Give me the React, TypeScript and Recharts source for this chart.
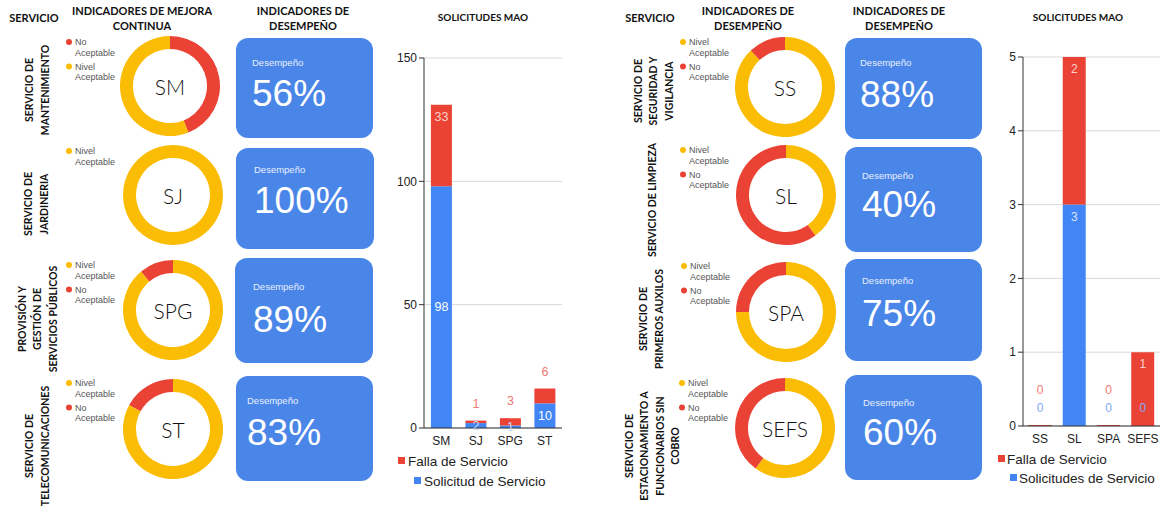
import React from 'react';
import { PieChart, Pie, Cell, BarChart, Bar, XAxis, YAxis, CartesianGrid, LabelList } from 'recharts';

// ---------- DATA ----------
const leftServices = ['SM', 'SJ', 'SPG', 'ST'];
const leftServiceNames = [
  ['SERVICIO DE', 'MANTENIMIENTO'],
  ['SERVICIO DE', 'JARDINERIA'],
  ['PROVISIÓN Y', 'GESTIÓN DE', 'SERVICIOS PÚBLICOS'],
  ['SERVICIO DE', 'TELECOMUNICACIONES'],
];
const leftPerformance = [56, 100, 89, 83];
const leftNoAceptable = [44, 0, 11, 17];
const leftLegendOrder = [['No', 'Nivel'], ['Nivel'], ['Nivel', 'No'], ['Nivel', 'No']];
const leftSolicitud = [98, 2, 1, 10];
const leftFalla = [33, 1, 3, 6];
const leftTicks = [0, 50, 100, 150];

const rightServices = ['SS', 'SL', 'SPA', 'SEFS'];
const rightServiceNames = [
  ['SERVICIO DE', 'SEGURIDAD Y', 'VIGILANCIA'],
  ['SERVICIO DE LIMPIEZA'],
  ['SERVICIO DE', 'PRIMEROS AUXILOS'],
  ['SERVICIO DE', 'ESTACIONAMIENTO A', 'FUNCIONARIOS SIN', 'COBRO'],
];
const rightPerformance = [88, 40, 75, 60];
const rightNoAceptable = [12, 60, 25, 40];
const rightLegendOrder = [['Nivel', 'No'], ['Nivel', 'No'], ['Nivel', 'No'], ['Nivel', 'No']];
const rightSolicitudes = [0, 3, 0, 0];
const rightFalla = [0, 2, 0, 1];
const rightTicks = [0, 1, 2, 3, 4, 5];

const legendText = { Nivel: ['Nivel', 'Aceptable'], No: ['No', 'Aceptable'] };

// ---------- STYLE ----------
const YELLOW = '#FBBC04';
const RED = '#EA4335';
const BOX = '#4A86E8';
const BAR_BLUE = '#4285F4';
const HEAD_FONT = 'Lato, "Open Sans", sans-serif';
const SANS = '"Liberation Sans", Arial, sans-serif';

// ---------- LAYOUT ----------
const leftDonutPos = [[170, 86], [173, 195], [173, 310], [173, 429]];
const rightDonutPos = [[785, 87], [786, 195], [786, 312], [785, 428]];
const leftLabelPos = [[37, 90], [36, 204], [37, 319], [37, 446]];
const rightLabelPos = [[653, 91], [652, 200], [651, 319], [652, 446]];
const leftLegendPos = [[69, 42], [69, 151], [69, 265], [69, 383]];
const rightLegendPos = [[683, 42], [683, 150], [684, 266], [682, 383]];
const leftBoxes = [
  { x: 236, y: 38, w: 137, h: 100, tx: 252, ty: 62, pb: 106 },
  { x: 236, y: 148, w: 138, h: 101, tx: 254, ty: 169, pb: 213 },
  { x: 235, y: 258, w: 138, h: 105, tx: 253, ty: 286, pb: 332 },
  { x: 236, y: 376, w: 137, h: 105, tx: 247, ty: 400, pb: 445 },
];
const rightBoxes = [
  { x: 845, y: 38, w: 137, h: 101, tx: 860, ty: 62, pb: 107 },
  { x: 845, y: 147, w: 137, h: 105, tx: 862, ty: 175, pb: 217 },
  { x: 845, y: 259, w: 137, h: 102, tx: 862, ty: 280, pb: 326 },
  { x: 845, y: 375, w: 137, h: 105, tx: 863, ty: 402, pb: 445 },
];

const leftBarData = leftServices.map((s, i) => ({ name: s, solicitud: leftSolicitud[i], falla: leftFalla[i] }));
const rightBarData = rightServices.map((s, i) => ({ name: s, solicitud: rightSolicitudes[i], falla: rightFalla[i] }));

function donutData(order: string[], perf: number, no: number) {
  return order.map((k) => ({
    name: k === 'Nivel' ? 'Nivel Aceptable' : 'No Aceptable',
    value: k === 'Nivel' ? perf : no,
    color: k === 'Nivel' ? YELLOW : RED,
  }));
}

function Donut({ cx, cy, order, perf, no }: any) {
  const data = donutData(order, perf, no);
  return (
    <div style={{ position: 'absolute', left: cx - 52, top: cy - 52, width: 104, height: 104 }}>
      <PieChart width={104} height={104} margin={{ top: 0, right: 0, bottom: 0, left: 0 }}>
        <Pie
          data={data}
          dataKey="value"
          cx={52}
          cy={52}
          innerRadius={37}
          outerRadius={50}
          startAngle={90}
          endAngle={-270}
          stroke="none"
          isAnimationActive={false}
        >
          {data.map((d, i) => (
            <Cell key={i} fill={d.color} />
          ))}
        </Pie>
      </PieChart>
    </div>
  );
}

// ---------- BAR LABELS ----------
const num = (v: any) => Number(v) || 0;
const geo = (p: any) => {
  const vb = p.viewBox || {};
  const x = p.x != null ? num(p.x) : num(vb.x);
  const y = p.y != null ? num(p.y) : num(vb.y);
  const w = p.width != null ? num(p.width) : num(vb.width);
  const h = p.height != null ? num(p.height) : num(vb.height);
  return { x, y, w, h: Math.abs(h) };
};
const leftBlueLabel = (p: any) => {
  const { x, y, w, h } = geo(p);
  const big = h > 14;
  return (
    <text x={x + w / 2} y={y + h / 2} textAnchor="middle" dominantBaseline="central" fontSize={12.5}
      fontFamily={SANS} fill={big ? '#ffffff' : '#c9dbfb'}>{String(p.value)}</text>
  );
};
const leftRedLabel = (p: any) => {
  const { x, y, w, h } = geo(p);
  const big = h > 20;
  return (
    <text x={x + w / 2} y={big ? y + 12 : y - 17} textAnchor="middle" dominantBaseline="central" fontSize={12.5}
      fontFamily={SANS} fill={big ? '#fbd0cc' : '#f07a70'}>{String(p.value)}</text>
  );
};
const rightBlueLabel = (p: any) => {
  const { x, y, w, h } = geo(p);
  const big = h > 14;
  return (
    <text x={x + w / 2} y={big ? y + 12 : y - 18 + h} textAnchor="middle" dominantBaseline="central" fontSize={12}
      fontFamily={SANS} fill={big ? '#d6e4fd' : '#7faaf5'}>{String(p.value)}</text>
  );
};
const rightRedLabel = (p: any) => {
  const { x, y, w, h } = geo(p);
  const big = h > 14;
  const yy = big ? y + 12 : y - 36 + h;
  return (
    <text x={x + w / 2} y={yy} textAnchor="middle" dominantBaseline="central" fontSize={12}
      fontFamily={SANS} fill={big ? '#fbd0cc' : '#f07a70'}>{String(p.value)}</text>
  );
};

function RotLabel({ cx, cy, lines }: any) {
  const L = 15.5;
  const n = lines.length;
  return (
    <text transform={`translate(${cx},${cy}) rotate(-90)`} textAnchor="middle" fontFamily={HEAD_FONT}
      fontWeight={700} fontSize={10.5} fill="#111">
      {lines.map((t: string, k: number) => (
        <tspan key={k} x={0} y={(k - (n - 1) / 2) * L} dominantBaseline="central">{t}</tspan>
      ))}
    </text>
  );
}

function Legend({ x, y, order }: any) {
  return (
    <g>
      {order.map((k: string, j: number) => {
        const yy = y + j * 24.5;
        const color = k === 'Nivel' ? YELLOW : RED;
        const [a, b] = (legendText as any)[k];
        return (
          <g key={j}>
            <circle cx={x} cy={yy} r={3} fill={color} />
            <text x={x + 6} y={yy} dominantBaseline="central" fontSize={9} fontFamily={SANS} fill="#555">{a}</text>
            <text x={x + 6} y={yy + 10.5} dominantBaseline="central" fontSize={9} fontFamily={SANS} fill="#555">{b}</text>
          </g>
        );
      })}
    </g>
  );
}

function KpiBox({ b, value }: any) {
  return (
    <g>
      <rect x={b.x} y={b.y} width={b.w} height={b.h} rx={12} ry={12} fill={BOX} />
      <text x={b.tx} y={b.ty} dominantBaseline="central" fontSize={9.5} fontFamily={SANS} fill="#e8efff">Desempeño</text>
      <text x={b.tx} y={b.pb} fontSize={37} fontFamily={SANS} fill="#ffffff">{value}%</text>
    </g>
  );
}

function Header({ cx, y, lines, size = 11 }: any) {
  return (
    <text textAnchor="middle" fontFamily={HEAD_FONT} fontWeight={700} fontSize={size} fill="#111">
      {lines.map((t: string, k: number) => (
        <tspan key={k} x={cx} y={y + k * 15.5} dominantBaseline="central">{t}</tspan>
      ))}
    </text>
  );
}

export default function App() {
  return (
    <div style={{ position: 'absolute', left: 0, top: 0, width: 1167, height: 508, background: '#fff', overflow: 'hidden' }}>
      <svg width={1167} height={508} style={{ position: 'absolute', left: 0, top: 0 }}>
        <Header cx={34} y={17} lines={['SERVICIO']} />
        <Header cx={142} y={10} lines={['INDICADORES DE MEJORA', 'CONTINUA']} />
        <Header cx={303} y={10} lines={['INDICADORES DE', 'DESEMPEÑO']} />
        <Header cx={483} y={17} lines={['SOLICITUDES MAO']} size={10} />
        <Header cx={650} y={17} lines={['SERVICIO']} />
        <Header cx={748} y={10} lines={['INDICADORES DE', 'DESEMPEÑO']} />
        <Header cx={899} y={10} lines={['INDICADORES DE', 'DESEMPEÑO']} />
        <Header cx={1078} y={17} lines={['SOLICITUDES MAO']} size={10} />

        {leftServiceNames.map((l, i) => (
          <RotLabel key={'ll' + i} cx={leftLabelPos[i][0]} cy={leftLabelPos[i][1]} lines={l} />
        ))}
        {rightServiceNames.map((l, i) => (
          <RotLabel key={'rl' + i} cx={rightLabelPos[i][0]} cy={rightLabelPos[i][1]} lines={l} />
        ))}
        {leftLegendOrder.map((o, i) => (
          <Legend key={'lg' + i} x={leftLegendPos[i][0]} y={leftLegendPos[i][1]} order={o} />
        ))}
        {rightLegendOrder.map((o, i) => (
          <Legend key={'rg' + i} x={rightLegendPos[i][0]} y={rightLegendPos[i][1]} order={o} />
        ))}
        {leftBoxes.map((b, i) => <KpiBox key={'lb' + i} b={b} value={leftPerformance[i]} />)}
        {rightBoxes.map((b, i) => <KpiBox key={'rb' + i} b={b} value={rightPerformance[i]} />)}

        {leftServices.map((s, i) => (
          <text key={'lc' + i} x={leftDonutPos[i][0]} y={leftDonutPos[i][1]} textAnchor="middle" dominantBaseline="central"
            fontFamily={HEAD_FONT} fontWeight={300} fontSize={21} fill="#111">{s}</text>
        ))}
        {rightServices.map((s, i) => (
          <text key={'rc' + i} x={rightDonutPos[i][0]} y={rightDonutPos[i][1]} textAnchor="middle" dominantBaseline="central"
            fontFamily={HEAD_FONT} fontWeight={300} fontSize={21} fill="#111">{s}</text>
        ))}

        <rect x={398} y={457} width={7} height={7} fill={RED} />
        <text x={408} y={461} dominantBaseline="central" fontSize={13.5} fontFamily={SANS} fill="#222">Falla de Servicio</text>
        <rect x={414} y={477} width={7} height={7} fill={BAR_BLUE} />
        <text x={424} y={481} dominantBaseline="central" fontSize={13.5} fontFamily={SANS} fill="#222">Solicitud de Servicio</text>

        <rect x={998} y={455} width={7} height={7} fill={RED} />
        <text x={1007} y={459} dominantBaseline="central" fontSize={13.5} fontFamily={SANS} fill="#222">Falla de Servicio</text>
        <rect x={1010} y={474} width={7} height={7} fill={BAR_BLUE} />
        <text x={1019} y={478} dominantBaseline="central" fontSize={13.5} fontFamily={SANS} fill="#222">Solicitudes de Servicio</text>
      </svg>

      {leftServices.map((s, i) => (
        <Donut key={'ld' + i} cx={leftDonutPos[i][0]} cy={leftDonutPos[i][1]} order={leftLegendOrder[i]}
          perf={leftPerformance[i]} no={leftNoAceptable[i]} />
      ))}
      {rightServices.map((s, i) => (
        <Donut key={'rd' + i} cx={rightDonutPos[i][0]} cy={rightDonutPos[i][1]} order={rightLegendOrder[i]}
          perf={rightPerformance[i]} no={rightNoAceptable[i]} />
      ))}

      <div style={{ position: 'absolute', left: 380, top: 40 }}>
        <BarChart width={190} height={408} data={leftBarData} margin={{ top: 18, right: 8, left: 0, bottom: 0 }}
          barCategoryGap="20%">
          <CartesianGrid vertical={false} stroke="#d9d9d9" />
          <XAxis dataKey="name" height={20} tickLine={false} axisLine={{ stroke: '#333' }}
            tick={{ fontSize: 12, fill: '#222', fontFamily: SANS }} interval={0} />
          <YAxis width={44} domain={[0, 150]} ticks={leftTicks} tickSize={5} tickLine={{ stroke: '#333' }}
            axisLine={{ stroke: '#333' }} tick={{ fontSize: 12, fill: '#222', fontFamily: SANS }} />
          <Bar dataKey="solicitud" stackId="a" fill={BAR_BLUE} isAnimationActive={false}>
            <LabelList dataKey="solicitud" content={leftBlueLabel} />
          </Bar>
          <Bar dataKey="falla" stackId="a" fill={RED} isAnimationActive={false}>
            <LabelList dataKey="falla" content={leftRedLabel} />
          </Bar>
        </BarChart>
      </div>

      <div style={{ position: 'absolute', left: 960, top: 40 }}>
        <BarChart width={207} height={406} data={rightBarData} margin={{ top: 17, right: 7, left: 0, bottom: 0 }}
          barCategoryGap="16%">
          <CartesianGrid vertical={false} stroke="#d9d9d9" />
          <XAxis dataKey="name" height={20} tickLine={false} axisLine={{ stroke: '#333' }}
            tick={{ fontSize: 12, fill: '#222', fontFamily: SANS }} interval={0} />
          <YAxis width={63} domain={[0, 5]} ticks={rightTicks} tickSize={5} tickLine={{ stroke: '#333' }}
            axisLine={{ stroke: '#333' }} tick={{ fontSize: 12, fill: '#222', fontFamily: SANS }} />
          <Bar dataKey="solicitud" stackId="a" fill={BAR_BLUE} minPointSize={1} isAnimationActive={false}>
            <LabelList dataKey="solicitud" content={rightBlueLabel} />
          </Bar>
          <Bar dataKey="falla" stackId="a" fill={RED} minPointSize={1} isAnimationActive={false}>
            <LabelList dataKey="falla" content={rightRedLabel} />
          </Bar>
        </BarChart>
      </div>
    </div>
  );
}
